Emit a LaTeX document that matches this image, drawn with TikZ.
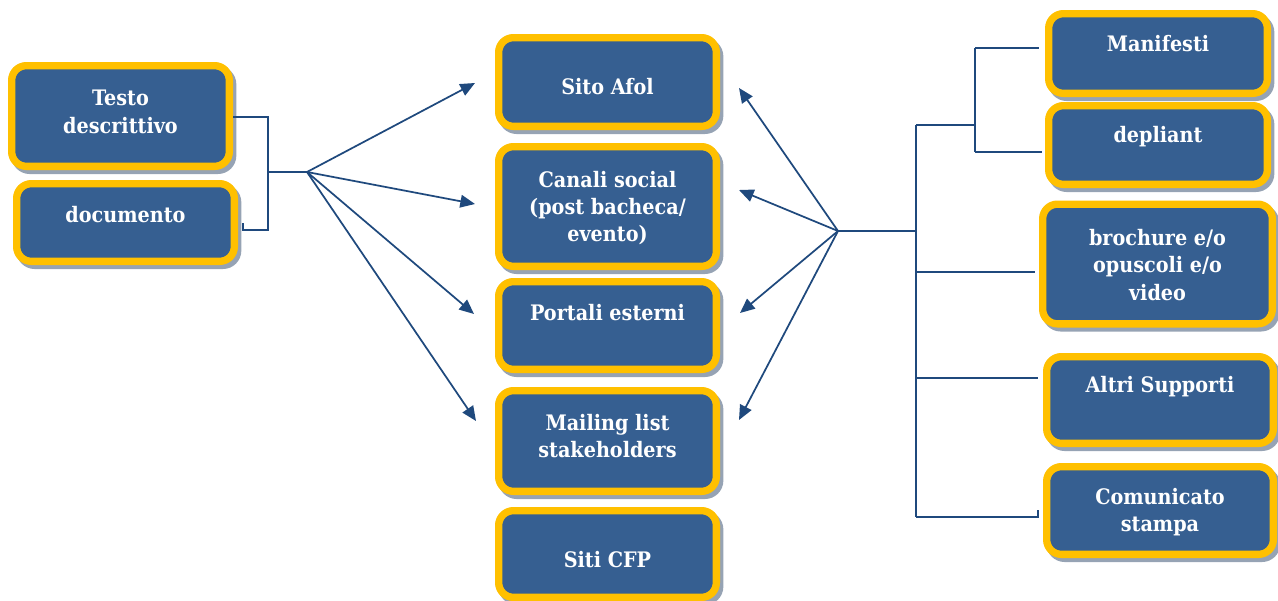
\documentclass[tikz,border=0pt]{standalone}
\usepackage{fontspec}
\setmainfont{DejaVu Serif}[FakeStretch=0.9]
\usetikzlibrary{shadows,arrows.meta,calc}
\definecolor{boxblue}{RGB}{54,95,145}
\definecolor{boxyellow}{RGB}{255,192,0}
\definecolor{lineblue}{RGB}{31,73,125}
\definecolor{shadowgray}{RGB}{150,163,180}
\tikzset{
  box/.style={draw=boxyellow, line width=5.5pt, fill=boxblue, rounded corners=11pt, inner sep=0pt,
    drop shadow={shadow xshift=2.5pt, shadow yshift=-3pt, fill=shadowgray, draw=shadowgray, line width=5.5pt, opacity=1}},
  boxsize/.style 2 args={minimum width=#1*0.75pt-5.5pt, minimum height=#2*0.75pt-5.5pt},
  lbl/.style={text=white, font=\bfseries\fontsize{16}{20.5}\selectfont, align=center, inner sep=0pt},
  conn/.style={draw=lineblue, line width=1.3pt},
  arr/.style={conn, -{Triangle[length=11pt,width=9.5pt]}}
}
\begin{document}
\begin{tikzpicture}[x=0.75pt,y=-0.75pt]
\useasboundingbox (0,0) rectangle (1278,600);
% left boxes
\node[box, boxsize={225}{108}] (L1) at (120.5,116) {};
\node[lbl] (tL1) at (120.5,112) {Testo\\descrittivo};
\node[box, boxsize={225}{85}] (L2) at (125.5,222.5) {};
\node[lbl] (tL2) at (125.5,215) {documento};
% middle boxes
\node[box, boxsize={225}{96}] (M1) at (607.5,82) {};
\node[lbl] (tM1) at (607.5,87) {Sito Afol};
\node[box, boxsize={225}{127}] (M2) at (607.5,206.5) {};
\node[lbl] (tM2) at (607.5,208) {Canali social\\(post bacheca/\\evento)};
\node[box, boxsize={225}{95}] (M3) at (607.5,325.5) {};
\node[lbl] (tM3) at (607.5,313) {Portali esterni};
\node[box, boxsize={225}{108}] (M4) at (607.5,441) {};
\node[lbl] (tM4) at (607.5,436) {Mailing list\\stakeholders};
\node[box, boxsize={225}{94}] (M5) at (607.5,554) {};
\node[lbl] (tM5) at (607.5,560) {Siti CFP};
% right boxes
\node[box, boxsize={226}{87}] (R1) at (1158,53.5) {};
\node[lbl] (tR1) at (1158,44) {Manifesti};
\node[box, boxsize={226}{86}] (R2) at (1158,145) {};
\node[lbl] (tR2) at (1158,137) {depliant};
\node[box, boxsize={237}{127}] (R3) at (1157.5,264) {};
\node[lbl] (tR3) at (1157.5,265) {brochure e/o\\opuscoli e/o\\video};
\node[box, boxsize={234}{94}] (R4) at (1160,400) {};
\node[lbl] (tR4) at (1160,387) {Altri Supporti};
\node[box, boxsize={234}{95}] (R5) at (1160,510.5) {};
\node[lbl] (tR5) at (1160,512) {Comunicato\\stampa};
% coordinates
\coordinate (kL1) at (268,117);
\coordinate (kL2) at (268,230);
\coordinate (bL) at (268,172);
\coordinate (fL) at (307,172);
\coordinate (aL1) at (475,83);
\coordinate (aL2) at (475,204);
\coordinate (aL3) at (474,314);
\coordinate (aL4) at (476,421);
\coordinate (fR) at (838,231);
\coordinate (bR) at (916,231);
\coordinate (aR1) at (739,88);
\coordinate (aR2) at (739,190);
\coordinate (aR3) at (740,313);
\coordinate (aR4) at (739,420);
\coordinate (vT) at (916,125);
\coordinate (vB) at (916,517);
\coordinate (v3) at (916,272);
\coordinate (v4) at (916,378);
\coordinate (kR) at (975,125);
\coordinate (kR1) at (975,48);
\coordinate (kR2) at (975,152);
% left bracket
\draw[conn] ($(L1.east)+(0,1)$) -- (kL1) -- (kL2) -- ($(L2.east)+(5,7.5)$) -- ($(L2.east)+(5,0.5)$);
\draw[conn] (bL) -- (fL);
\draw[arr] (fL) -- (aL1);
\draw[arr] (fL) -- (aL2);
\draw[arr] (fL) -- (aL3);
\draw[arr] (fL) -- (aL4);
% right tree
\draw[conn] (fR) -- (bR);
\draw[arr] (fR) -- (aR1);
\draw[arr] (fR) -- (aR2);
\draw[arr] (fR) -- (aR3);
\draw[arr] (fR) -- (aR4);
\draw[conn] (vT) -- (vB);
\draw[conn] (vT) -- (kR);
\draw[conn] (kR1) -- (kR2);
\draw[conn] (kR1) -- ($(R1.west)+(-6,-5.5)$);
\draw[conn] (kR2) -- ($(R2.west)+(-3,7)$);
\draw[conn] (v3) -- ($(R3.west)+(-4,8)$);
\draw[conn] (v4) -- ($(R4.west)+(-5,-22)$);
\draw[conn] (vB) -- ($(R5.west)+(-5,6.5)$) -- ($(R5.west)+(-5,-0.5)$);
\end{tikzpicture}
\end{document}
